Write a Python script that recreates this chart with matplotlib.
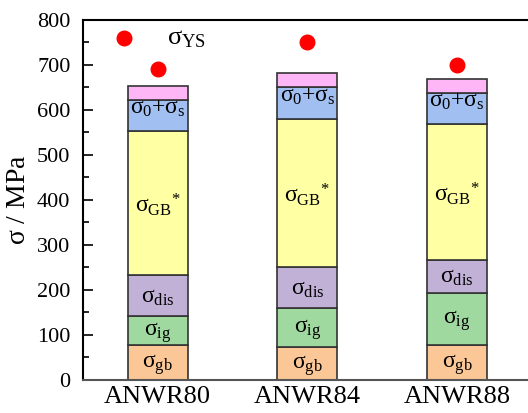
import numpy as np
import matplotlib.pyplot as plt

plt.rcParams['font.family'] = 'Liberation Serif'
plt.rcParams['mathtext.fontset'] = 'custom'
plt.rcParams['mathtext.rm'] = 'Liberation Serif'
plt.rcParams['mathtext.it'] = 'Liberation Serif'
plt.rcParams['mathtext.bf'] = 'Liberation Serif:bold'

samples = ['ANWR80', 'ANWR84', 'ANWR88']
sigma_gb = [77, 74, 77]
sigma_ig = [64, 85, 117]
sigma_dis = [93, 93, 73]
sigma_GB = [319, 328, 301]
sigma_0s = [70, 70, 70]
sigma_top = [31, 31, 31]
sigma_ys = [691, 750, 700]

layers = [sigma_gb, sigma_ig, sigma_dis, sigma_GB, sigma_0s, sigma_top]
colors = ['#fbc796', '#a0d9a0', '#c1b1d7', '#ffffa3', '#a1bff0', '#ffb6f6']
names = [r'$\sigma_{gb}$', r'$\sigma_{ig}$', r'$\sigma_{dis}$',
         r'$\sigma_{GB}{}^{*}$', r'$\sigma_0$+$\sigma_s$', None]

fig = plt.figure(figsize=(5.28, 4.13), dpi=100)
ax = fig.add_axes([0.157, 0.08, 0.843, 0.872])

x = np.arange(1, len(samples) + 1)
bottom = np.zeros(len(samples))
for vals, c, name in zip(layers, colors, names):
    vals = np.array(vals)
    ax.bar(x, vals, 0.4, bottom=bottom, color=c, edgecolor='#333333', linewidth=1.2, zorder=2)
    if name is not None:
        for xi, b, v in zip(x, bottom, vals):
            if name.startswith(r'$\sigma_0'):
                ax.text(xi, b + v + 4, name, ha='center', va='top', fontsize=17, zorder=3)
            else:
                ax.text(xi, b + v / 2 - 4, name, ha='center', va='center', fontsize=17, zorder=3)
    bottom += vals

ax.scatter(x, sigma_ys, s=110, color='#ff0000', zorder=4, label=r'$\sigma_{YS}$')
ax.legend(loc='upper left', bbox_to_anchor=(0.01, 1.012), frameon=False, fontsize=19,
          handletextpad=0.6, borderaxespad=0, scatterpoints=1)

ax.set_xlim(0.5, 3.475)
ax.set_ylim(0, 800)
ax.set_xticks(x)
ax.set_xticklabels(samples, fontsize=19)
ax.set_yticks(np.arange(0, 801, 100))
ax.set_yticks(np.arange(50, 800, 100), minor=True)
ax.tick_params(axis='y', which='major', direction='in', length=7, width=1.2, labelsize=16, pad=9)
ax.tick_params(axis='y', which='minor', direction='in', length=4, width=1.2)
ax.tick_params(axis='x', direction='in', length=5, width=1.2, pad=4)
ax.set_ylabel(r'$\sigma$ / MPa', fontsize=20, labelpad=4)

ax.spines['right'].set_visible(False)
ax.spines['bottom'].set_color('#555555')
for s in ['left', 'bottom', 'top']:
    ax.spines[s].set_linewidth(1.5)

plt.savefig('out.png', dpi=100)
